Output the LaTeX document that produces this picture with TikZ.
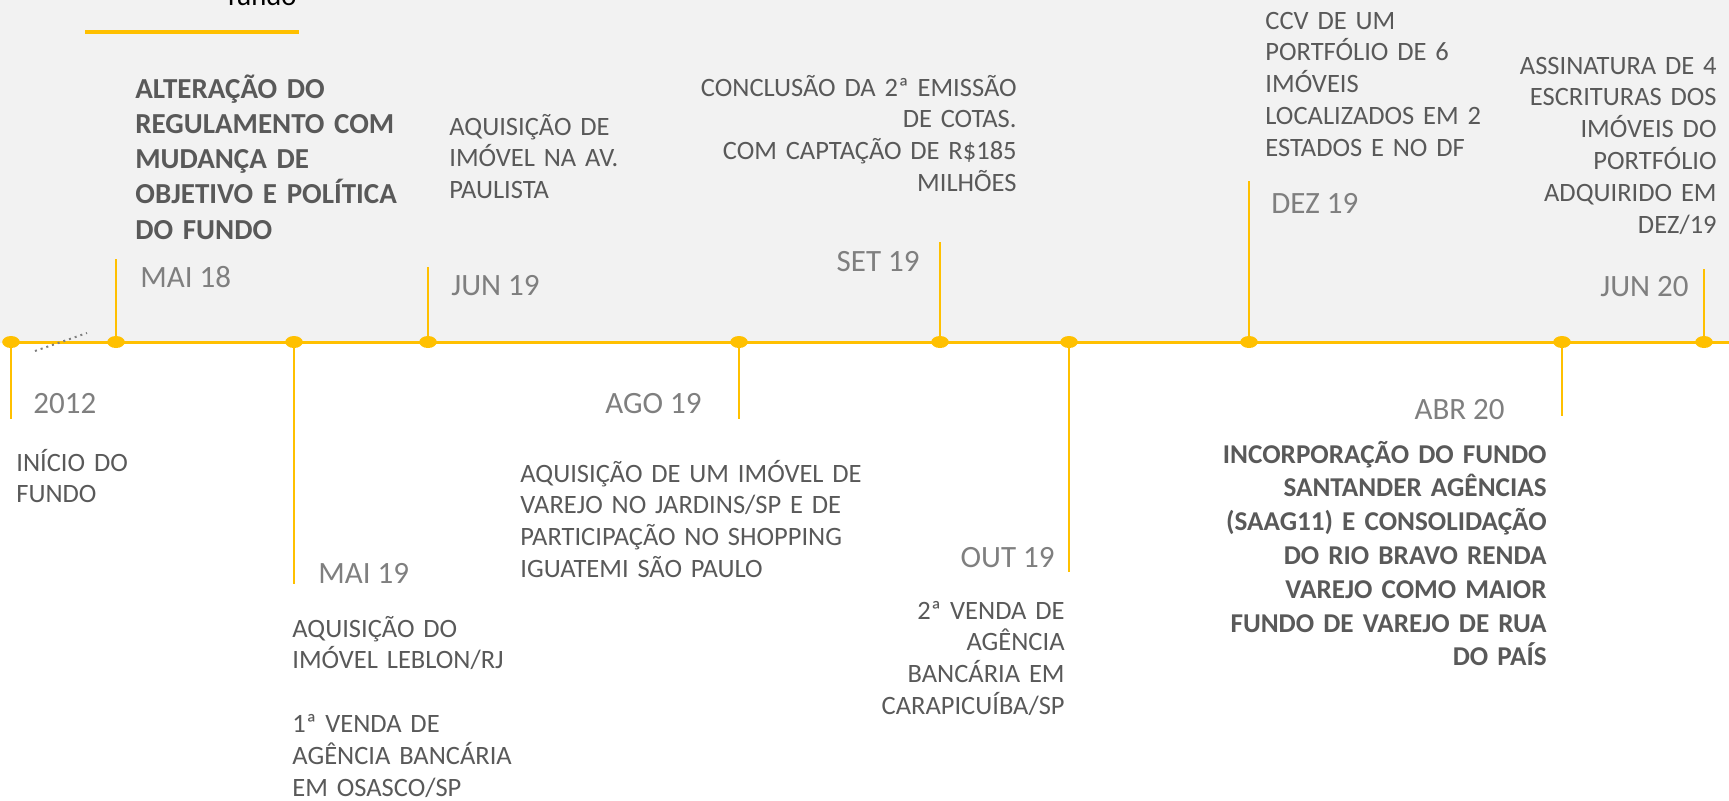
\documentclass[tikz,border=0pt]{standalone}
\usepackage{fontspec}
\setmainfont{Carlito}
\usetikzlibrary{shapes.geometric}
\definecolor{tlyellow}{HTML}{FFC000}
\definecolor{tlback}{HTML}{F2F2F2}
\definecolor{txtdark}{HTML}{595959}
\definecolor{txtdate}{HTML}{7F7F7F}
\tikzset{
  evdot/.style={ellipse,fill=tlyellow,minimum width=8.8pt,minimum height=6pt,inner sep=0pt},
  stem/.style={tlyellow,line width=1.1pt},
  datelbl/.style={font=\fontsize{15.5}{18}\selectfont,text=txtdate,inner sep=0pt},
  evtxt/.style={font=\fontsize{13.25}{15.9}\selectfont,text=txtdark,inner sep=0pt,text width=200pt},
  evbold/.style={evtxt,font=\fontsize{14.5}{17.65}\selectfont\bfseries}
}
\begin{document}
\begin{tikzpicture}[x=0.5pt,y=-0.5pt]
      \useasboundingbox (0,0) rectangle (1729,800);
      \fill[tlback] (0,0) rectangle (1729,343);
      \node[font=\fontsize{14.3}{17}\selectfont,inner sep=0pt,anchor=base] (fundo) at (262,5) {fundo};
      \draw[tlyellow,line width=2pt] (85,32) -- (299,32);
      % linha do tempo
      \coordinate (tlstart) at (5,342); \coordinate (tlend) at (1729,342);
      \draw[tlyellow,line width=1.5pt] (tlstart) -- (tlend);
      \draw[txtdate,dotted,line width=1pt] (35,351) -- (87,333);
      \foreach \n/\x/\y in {d1/11/419, d2/116/259, d3/294/584, d4/428/267, d5/739/419,
                            d6/940/242, d7/1069/572, d8/1249/181, d9/1562/416, d10/1704/269}{
        \node[evdot] (\n) at (\x,342) {};
        \coordinate (\n-end) at (\x,\y);
        \draw[stem] (\n.center) -- (\n-end);
      }
      % datas
      \foreach \n/\x/\y/\A/\T in {d1/33/413/base west/2012, d2/140/287/base west/MAI 18,
          d3/318/583/base west/MAI 19, d4/451/295/base west/JUN 19, d5/702/413/base east/AGO 19,
          d6/920/271/base east/SET 19, d7/1055/567/base east/OUT 19, d8/1271/213/base west/DEZ 19,
          d9/1505/419/base east/ABR 20, d10/1689/296/base east/JUN 20}{
        \node[datelbl,anchor=\A] (\n-date) at (\x,\y) {\T};
      }
      % eventos
      \node[evtxt,align=left,anchor=base west] (t1) at (16,471) {INÍCIO DO\\FUNDO};
      \node[evbold,align=left,anchor=base west] (t2) at (135,98) {ALTERAÇÃO DO\\REGULAMENTO COM\\MUDANÇA DE\\OBJETIVO E POLÍTICA\\DO FUNDO};
      \node[evtxt,align=left,anchor=base west] (t3) at (292,637) {AQUISIÇÃO DO\\IMÓVEL LEBLON/RJ\\[15.9pt]1ª VENDA DE\\AGÊNCIA BANCÁRIA\\EM OSASCO/SP};
      \node[evtxt,align=left,anchor=base west] (t4) at (449,135) {AQUISIÇÃO DE\\IMÓVEL NA AV.\\PAULISTA};
      \node[evtxt,align=left,anchor=base west] (t5) at (520,482) {AQUISIÇÃO DE UM IMÓVEL DE\\VAREJO NO JARDINS/SP E DE\\PARTICIPAÇÃO NO SHOPPING\\IGUATEMI SÃO PAULO};
      \node[evtxt,align=right,anchor=base east] (t6) at (1017,96) {CONCLUSÃO DA 2ª EMISSÃO\\DE COTAS.\\COM CAPTAÇÃO DE R\$185\\MILHÕES};
      \node[evtxt,align=right,anchor=base east] (t7) at (1065,619) {2ª VENDA DE\\AGÊNCIA\\BANCÁRIA EM\\CARAPICUÍBA/SP};
      \node[evtxt,align=left,anchor=base west] (t8) at (1265,29) {CCV DE UM\\PORTFÓLIO DE 6\\IMÓVEIS\\LOCALIZADOS EM 2\\ESTADOS E NO DF};
      \node[evbold,font=\fontsize{13.6}{16.9}\selectfont\bfseries,align=right,anchor=base east] (t9) at (1547,463) {INCORPORAÇÃO DO FUNDO\\SANTANDER AGÊNCIAS\\(SAAG11) E CONSOLIDAÇÃO\\DO RIO BRAVO RENDA\\VAREJO COMO MAIOR\\FUNDO DE VAREJO DE RUA\\DO PAÍS};
      \node[evtxt,align=right,anchor=base east] (t10) at (1717,74) {ASSINATURA DE 4\\ESCRITURAS DOS\\IMÓVEIS DO\\PORTFÓLIO\\ADQUIRIDO EM\\DEZ/19};
\end{tikzpicture}
\end{document}
